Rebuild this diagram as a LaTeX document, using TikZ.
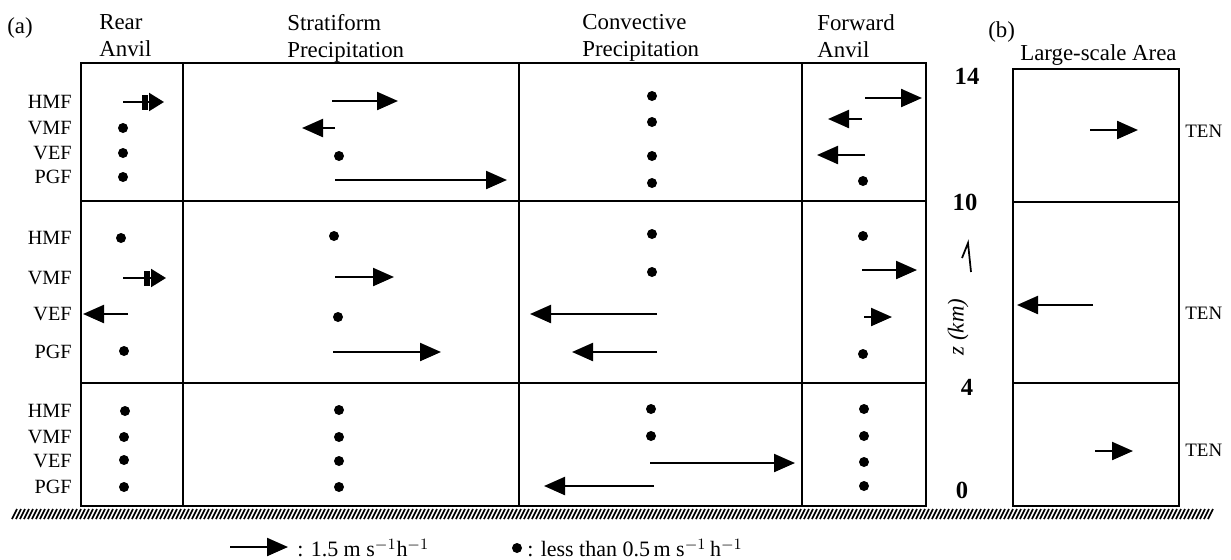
\documentclass[tikz,border=0pt]{standalone}
\usepackage{fontspec}
\setmainfont{Liberation Serif}
\usetikzlibrary{arrows.meta}

\begin{document}
\begin{tikzpicture}[
  x=0.2mm, y=-0.2mm,
  frame/.style={line width=0.4mm},
  force/.style={line width=0.45mm, -{Triangle[length=4.2mm,width=3.6mm]}},
  rearforce/.style={line width=0.45mm, -{Rectangle[length=1.2mm,width=3mm,sep=0.3mm]Triangle[length=3mm,width=3.6mm]}},
  dot/.style={circle, fill, inner sep=0pt, minimum size=2mm},
  header/.style={anchor=north west, align=left, inner sep=0pt, font=\fontsize{13}{15.5}\selectfont},
  rowlabel/.style={anchor=east, inner sep=0pt, font=\fontsize{11.5}{13}\selectfont},
  height/.style={inner sep=0pt, font=\fontsize{14}{16}\selectfont\bfseries},
  tenlabel/.style={anchor=west, inner sep=0pt, font=\fontsize{10.8}{12}\selectfont},
  legend/.style={anchor=west, inner sep=0pt, font=\fontsize{12.5}{14}\selectfont}
]
\useasboundingbox (0,0) rectangle (1231,559);

% Headers
\node[header] (panelA) at (7,17) {(a)};
\node[header] (hdrRear) at (99,14) {Rear\\Anvil};
\node[header] (hdrStrat) at (287,14) {Stratiform\\Precipitation};
\node[header] (hdrConv) at (582,14) {Convective\\Precipitation};
\node[header] (hdrFwd) at (817,14) {Forward\\Anvil};
\node[header] (panelB) at (988,21) {(b)};
\node[header] (hdrLarge) at (1020,44) {Large-scale Area};

% Panel (a) frame
\draw[frame] (81,63) rectangle (926,506);
\draw[frame] (81,201) -- (926,201);
\draw[frame] (81,383) -- (926,383);
\foreach \x in {183,519,802}
  \draw[frame] (\x,63) -- (\x,506);

% Panel (b) frame
\draw[frame] (1013,69) rectangle (1179,506);
\draw[frame] (1013,202) -- (1179,202);
\draw[frame] (1013,383) -- (1179,383);

% Ground
\foreach \h in {12,16,...,1208}
  \draw[line width=0.35mm] (\h,519) -- (\h+5,509);

% Row labels
\foreach \t/\y in {HMF/102, VMF/128, VEF/153, PGF/177,
                   HMF/238, VMF/278, VEF/314, PGF/352,
                   HMF/411, VMF/437, VEF/461, PGF/487}
  \node[rowlabel] (row\y) at (72,\y) {\t};

% Height axis
\node[height] (h14) at (967,76) {14};
\node[height] (h10) at (965,202) {10};
\node[height] (h4) at (967,387) {4};
\node[height] (h0) at (962,490) {0};
\node[rotate=90, inner sep=0pt, font=\fontsize{13}{15}\selectfont\itshape] (zlabel) at (958,327) {z (km)};
\draw[line width=0.35mm] (962,258) -- (968,243) -- (971,272);

% TEN labels
\node[tenlabel] (tenTop) at (1185,131) {TEN};
\node[tenlabel] (tenMid) at (1185,313) {TEN};
\node[tenlabel] (tenBot) at (1185,450) {TEN};

% Rear anvil arrows
\foreach \n/\a/\b/\y in {rHMFt/123/164/102, rVMFm/123/166/278} {
  \coordinate (\n-s) at (\a,\y);
  \coordinate (\n-e) at (\b,\y);
  \draw[rearforce] (\n-s) -- (\n-e);
}

% Force arrows
\foreach \n/\a/\b/\y in {sHMFt/332/398/101, sVMFt/335/302/128, sPGFt/335/507/180,
                         fHMFt/865/922/98, fVMFt/862/828/119, fVEFt/865/817/155,
                         rVEFm/128/83/314, sVMFm/335/394/277, sPGFm/333/441/352,
                         cVEFm/657/530/314, cPGFm/657/572/352,
                         fVMFm/862/917/270, fVEFm/864/892/317,
                         cVEFb/650/795/463, cPGFb/654/544/486,
                         bTop/1090/1138/130, bMid/1093/1017/305, bBot/1095/1133/451} {
  \coordinate (\n-s) at (\a,\y);
  \coordinate (\n-e) at (\b,\y);
  \draw[force] (\n-s) -- (\n-e);
}

% Small values
\foreach \n/\x/\y in {rVMFt/123/128, rVEFt/123/153, rPGFt/123/177,
                      sVEFt/339/156,
                      cHMFt/652/96, cVMFt/652/122, cVEFt/652/156, cPGFt/652/183,
                      fPGFt/863/181,
                      rHMFm/121/238, rPGFm/124/351,
                      sHMFm/334/236, sVEFm/338/317,
                      cHMFm/652/234, cVMFm/652/272,
                      fHMFm/863/236, fPGFm/863/354,
                      rHMFb/125/411, rVMFb/124/437, rVEFb/124/460, rPGFb/124/487,
                      sHMFb/339/410, sVMFb/339/437, sVEFb/339/461, sPGFb/339/487,
                      cHMFb/651/409, cVMFb/651/436,
                      fHMFb/864/409, fVMFb/864/436, fVEFb/864/462, fPGFb/864/486}
  \node[dot] (\n) at (\x,\y) {};

% Legend
\coordinate (keyArrow-s) at (230,547);
\coordinate (keyArrow-e) at (288,547);
\draw[force] (keyArrow-s) -- (keyArrow-e);
\node[legend] (keyArrowText) at (297,548) {: 1.5 m s$^{-1}$h$^{-1}$};
\node[dot] (keyDot) at (517,548) {};
\node[legend] (keyDotText) at (527,548) {: less than 0.5\,m s$^{-1}$\,h$^{-1}$};

\end{tikzpicture}
\end{document}
